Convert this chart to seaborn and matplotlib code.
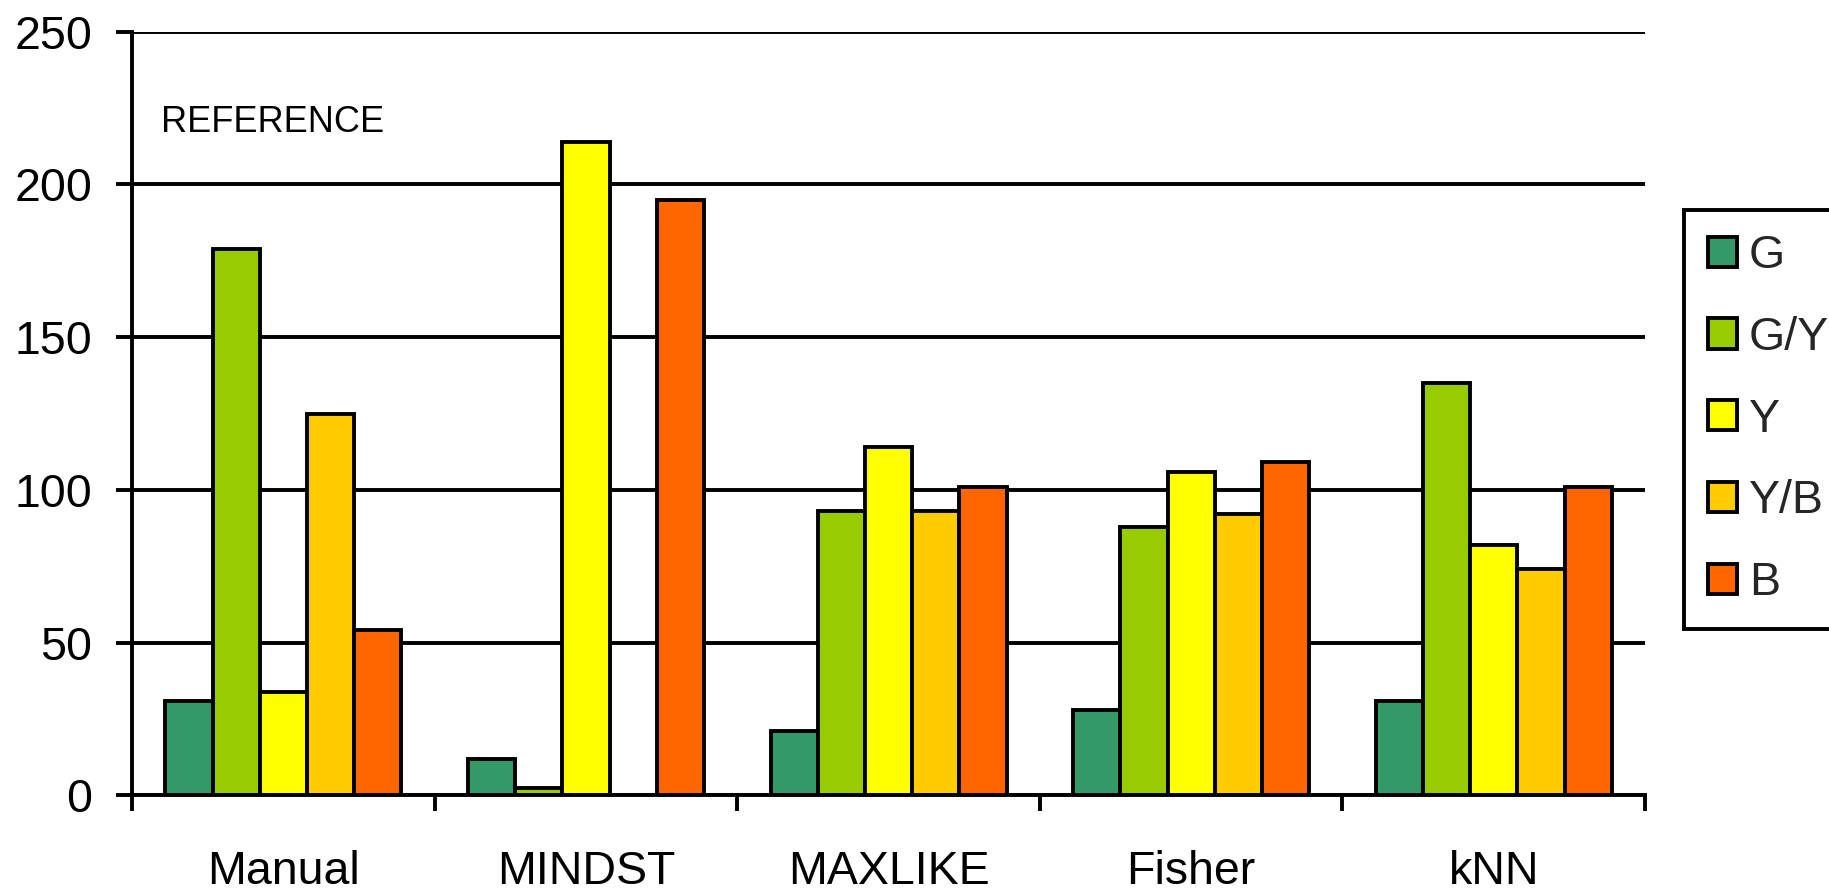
import matplotlib
matplotlib.use("Agg")
import matplotlib.pyplot as plt
from matplotlib.patches import Patch
from matplotlib.ticker import FixedLocator, NullFormatter
import seaborn as sns
import pandas as pd

# Classification results per method and class
methods = ["Manual", "MINDST", "MAXLIKE", "Fisher", "kNN"]
classes = ["G", "G/Y", "Y", "Y/B", "B"]
g_vals = [31, 12, 21, 28, 31]
gy_vals = [179, 2.5, 93, 88, 135]
y_vals = [34, 214, 114, 106, 82]
yb_vals = [125, 0, 93, 92, 74]
b_vals = [54, 195, 101, 109, 101]
colors = ["#339966", "#99CC00", "#FFFF00", "#FFCC00", "#FF6600"]
y_ticks = [0, 50, 100, 150, 200, 250]

series = [g_vals, gy_vals, y_vals, yb_vals, b_vals]
rows = []
for cls, vals in zip(classes, series):
    for m, v in zip(methods, vals):
        rows.append({"method": m, "class": cls, "value": v})
df = pd.DataFrame(rows)

sns.set_theme(style="white")
plt.rcParams["font.family"] = ["Liberation Sans", "DejaVu Sans"]

LW = 2.8
fig = plt.figure(figsize=(18.29, 8.91), dpi=100)
ax = fig.add_axes([0.0722, 0.1072, 0.8272, 0.8574])

palette = dict(zip(classes, colors))
sns.barplot(data=df, x="method", y="value", hue="class", order=methods,
            hue_order=classes, palette=palette, width=0.78, dodge=True,
            edgecolor="black", linewidth=LW, saturation=1, legend=False,
            errorbar=None, ax=ax, zorder=3)

ax.set_xlim(-0.5, 4.5)
ax.set_ylim(0, 250)
ax.set_yticks(y_ticks)
ax.yaxis.grid(True, color="black", linewidth=LW, zorder=0)
ax.set_axisbelow(True)
ax.set_xlabel("")
ax.set_ylabel("")

for side in ["top", "right"]:
    ax.spines[side].set_visible(False)
for side in ["left", "bottom"]:
    ax.spines[side].set_color("black")
    ax.spines[side].set_linewidth(LW)
    ax.spines[side].set_zorder(4)

ax.tick_params(axis="y", which="major", length=11.5, width=LW, color="black",
               direction="out", pad=17, labelsize=33.5, labelcolor="black", left=True)
ax.tick_params(axis="x", which="major", length=0, pad=39, labelsize=33.5,
               labelcolor="black", bottom=True)
ax.xaxis.set_minor_locator(FixedLocator([-0.5, 0.5, 1.5, 2.5, 3.5, 4.5]))
ax.xaxis.set_minor_formatter(NullFormatter())
ax.tick_params(axis="x", which="minor", length=11.5, width=LW, color="black",
               direction="out", bottom=True)

ax.text(0.019, 0.881, "REFERENCE", transform=ax.transAxes, fontsize=26,
        ha="left", va="center", color="black")

handles = [Patch(facecolor=palette[c], edgecolor="black", linewidth=LW, label=c)
           for c in classes]
leg = fig.legend(handles=handles, loc="upper left",
                 bbox_to_anchor=(0.9207, 0.7643), fontsize=33.5, frameon=True,
                 framealpha=1, fancybox=False, edgecolor="black",
                 handlelength=0.62, handleheight=0.62, handletextpad=0.25,
                 labelspacing=0.81, borderpad=0.52, borderaxespad=0)
leg.get_frame().set_linewidth(LW)

fig.savefig("out.png", dpi=100, facecolor="white")
